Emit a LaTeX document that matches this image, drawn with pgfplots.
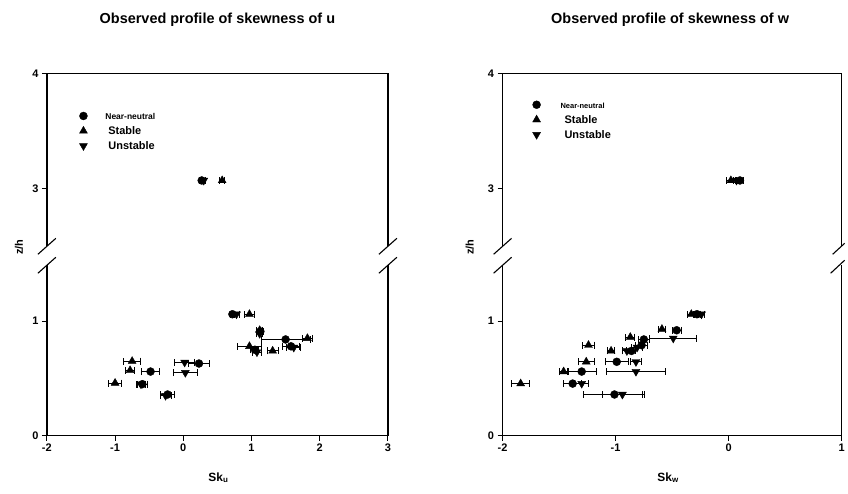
\documentclass[border=0pt]{standalone}
\usepackage{fontspec}
\setmainfont{Liberation Sans}
\usepackage{pgfplots}
\usepackage{pgfplotstable}
\pgfplotsset{compat=1.18}

% Sk_u panel
\pgfplotstableread{
x y ex
0.27 3.07 0.03
0.72 1.06 0.03
1.13 0.91 0.05
1.50 0.84 0.36
1.58 0.78 0.12
1.05 0.75 0.06
0.23 0.63 0.16
-0.48 0.56 0.13
-0.60 0.45 0.07
-0.23 0.36 0.10
}\UNN
\pgfplotstableread{
x y ex
0.57 3.07 0.04
0.97 1.06 0.07
1.12 0.92 0.04
1.82 0.85 0.07
0.97 0.78 0.17
1.31 0.74 0.08
-0.75 0.65 0.13
-0.78 0.57 0.06
-1.00 0.46 0.09
}\UST
\pgfplotstableread{
x y ex
0.30 3.07 0.03
0.78 1.06 0.04
1.12 0.89 0.04
1.62 0.77 0.10
1.08 0.73 0.06
0.02 0.64 0.15
0.03 0.55 0.18
-0.62 0.45 0.06
-0.26 0.35 0.08
}\UUN
% Sk_w panel
\pgfplotstableread{
x y ex
0.10 3.07 0.03
-0.28 1.06 0.03
-0.46 0.92 0.04
-0.75 0.84 0.05
-0.77 0.79 0.05
-0.86 0.74 0.04
-0.99 0.645 0.10
-1.30 0.56 0.13
-1.38 0.455 0.08
-1.01 0.36 0.27
}\WNN
\pgfplotstableread{
x y ex
0.02 3.07 0.04
-0.33 1.06 0.03
-0.59 0.93 0.03
-0.87 0.86 0.04
-1.24 0.79 0.05
-1.04 0.74 0.03
-1.26 0.645 0.07
-1.46 0.56 0.04
-1.84 0.455 0.08
}\WST
\pgfplotstableread{
x y ex
0.07 3.07 0.03
-0.24 1.06 0.03
-0.49 0.85 0.21
-0.81 0.77 0.05
-0.90 0.74 0.04
-0.82 0.645 0.05
-0.82 0.56 0.26
-1.30 0.455 0.06
-0.94 0.36 0.18
}\WUN

\pgfplotsset{
  base/.style={scale only axis, anchor=south west,
    axis line style={draw=none},
    tick align=outside, major tick length=5pt,
    tick style={black, line width=1.1pt},
    ticklabel style={font=\bfseries\fontsize{11}{11}\selectfont},
    /pgf/number format/assume math mode=true,
    ytick pos=left, xtick pos=bottom,
    minor tick num=0},
  lower/.style={base, ymin=0, ymax=1.487, height=171pt, ytick={0,1},
    restrict y to domain=-1:2},
  upper/.style={base, ymin=2.496, ymax=4, height=173pt, ytick={3,4},
    xtick=\empty, restrict y to domain=2.5:5,
    legend style={anchor=north west, draw=none, fill=none, inner sep=0pt,
      font=\bfseries\fontsize{11}{12}\selectfont, row sep=0pt},
    legend cell align=left},
  ebar/.style={error bars/.cd, x dir=both, x explicit,
    error bar style={line width=1pt, black},
    error mark options={line width=1pt, mark size=3.5pt, black, rotate=90}},
  nn/.style={only marks, mark=*, mark size=4pt, black, ebar},
  st/.style={only marks, mark=triangle*, mark size=4.6pt, black, ebar},
  un/.style={only marks, mark=triangle*, mark size=4.6pt, mark options={rotate=180}, black, ebar},
}
\newcommand{\lgstrut}{\rule[-4pt]{0pt}{13.5pt}}

\begin{document}
\begin{tikzpicture}[x=1pt, y=1pt]
\path (0,0) rectangle (848,495);

% ---------- left panel: Sk_u ----------
\begin{axis}[lower, at={(47pt,58pt)}, width=342pt, xmin=-2, xmax=3, xtick={-2,-1,0,1,2,3}]
\addplot[nn] table[x=x, y=y, x error=ex] {\UNN};
\addplot[st] table[x=x, y=y, x error=ex] {\UST};
\addplot[un] table[x=x, y=y, x error=ex] {\UUN};
\end{axis}
\begin{axis}[upper, at={(47pt,248pt)}, width=342pt, xmin=-2, xmax=3,
  legend style={at={(axis description cs:0.095,0.80)}}]
\addplot[nn] table[x=x, y=y, x error=ex] {\UNN};
\addplot[st] table[x=x, y=y, x error=ex] {\UST};
\addplot[un] table[x=x, y=y, x error=ex] {\UUN};
\legend{{\lgstrut\hspace*{16pt}\fontsize{8.5}{9}\selectfont Near-neutral}, {\lgstrut\hspace*{19pt}Stable}, {\lgstrut\hspace*{19pt}Unstable}}
\end{axis}

% ---------- right panel: Sk_w ----------
\begin{axis}[lower, at={(504pt,58pt)}, width=340pt, xmin=-2, xmax=1, xtick={-2,-1,0,1}]
\addplot[nn] table[x=x, y=y, x error=ex] {\WNN};
\addplot[st] table[x=x, y=y, x error=ex] {\WST};
\addplot[un] table[x=x, y=y, x error=ex] {\WUN};
\end{axis}
\begin{axis}[upper, at={(504pt,248pt)}, width=340pt, xmin=-2, xmax=1,
  legend style={at={(axis description cs:0.088,0.865)}}]
\addplot[nn] table[x=x, y=y, x error=ex] {\WNN};
\addplot[st] table[x=x, y=y, x error=ex] {\WST};
\addplot[un] table[x=x, y=y, x error=ex] {\WUN};
\legend{{\lgstrut\hspace*{18pt}\fontsize{7.5}{8}\selectfont Near-neutral}, {\lgstrut\hspace*{22pt}Stable}, {\lgstrut\hspace*{22pt}Unstable}}
\end{axis}

% ---------- frames and break marks ----------
\begin{scope}[line width=1.3pt, black]
\draw (47,229) -- (47,58) -- (389,58) -- (389,229);
\draw (47,248) -- (47,421) -- (389,421) -- (389,248);
\draw (504,229) -- (504,58) -- (844,58) -- (844,229);
\draw (504,248) -- (504,421) -- (844,421) -- (844,248);
\foreach \xx in {47,389,504}{
  \draw[line width=1.1pt] (\xx-9,240) -- (\xx+9,256);
  \draw[line width=1.1pt] (\xx-9,221) -- (\xx+9,237);
}
\draw[line width=1.1pt] (835,240) -- (847,251);
\draw[line width=1.1pt] (833,221) -- (847,234);
\end{scope}

% ---------- titles and labels ----------
\node[font=\bfseries\fontsize{14.5}{16}\selectfont] at (218,475) {Observed profile of skewness of u};
\node[font=\bfseries\fontsize{14.5}{16}\selectfont] at (672,475) {Observed profile of skewness of w};
\node[font=\bfseries\fontsize{12}{14}\selectfont] at (219,16) {Sk\textsubscript{u}};
\node[font=\bfseries\fontsize{12}{14}\selectfont] at (670,16) {Sk\textsubscript{w}};
\node[font=\bfseries\fontsize{11}{12}\selectfont, rotate=90] at (19,247) {z/h};
\node[font=\bfseries\fontsize{11}{12}\selectfont, rotate=90] at (471,247) {z/h};
\end{tikzpicture}
\end{document}
